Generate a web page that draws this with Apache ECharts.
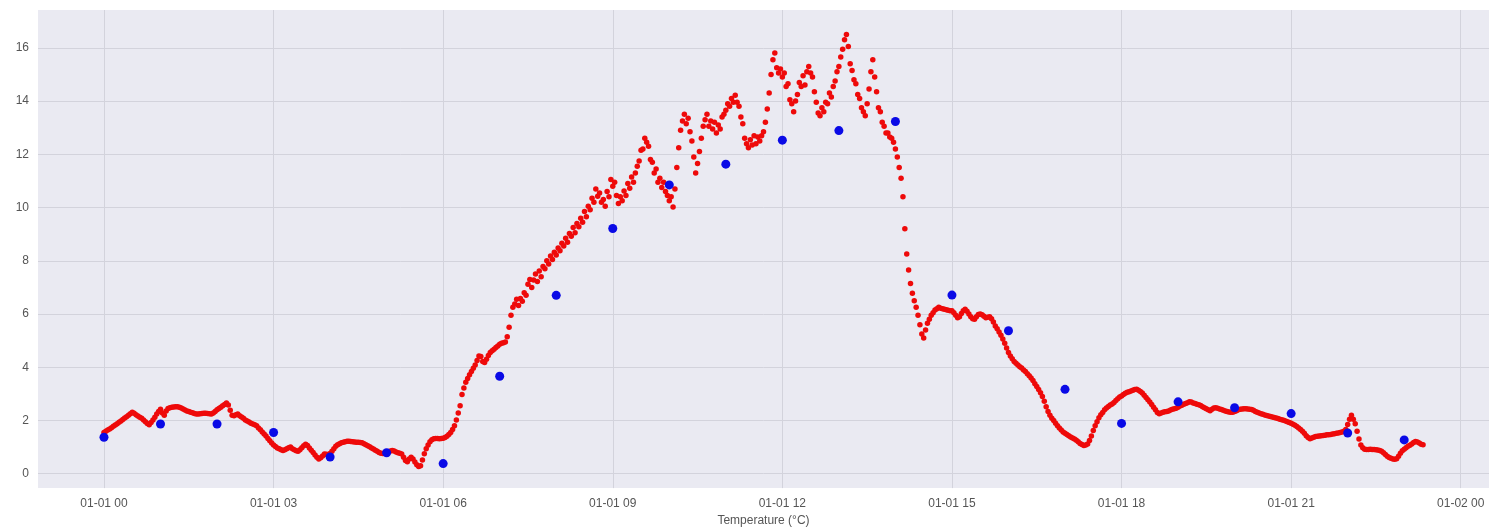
<!DOCTYPE html>
<html>
<head>
<meta charset="utf-8">
<script src="https://cdn.jsdelivr.net/npm/echarts@6/dist/echarts.min.js"></script>
<style>
  html, body { margin: 0; padding: 0; background: #ffffff; }
  #chart { width: 1489px; height: 532px; }
</style>
</head>
<body>
<div id="chart"></div>
<script>
// Temperature readings, one every 2 minutes from 01-01 00:00 (°C)
const stepHours = 1 / 30;
const sensorTemp = [
  // 00h
  1.55,1.60,1.64,1.68,1.73,1.78,1.83,1.88,1.93,1.98,2.04,2.09,2.14,2.20,2.25,2.31,2.27,2.22,2.17,2.12,2.08,2.02,1.95,1.89,1.84,1.92,2.02,2.12,2.24,2.34,
  // 01h
  2.42,2.28,2.20,2.36,2.45,2.48,2.50,2.51,2.52,2.52,2.50,2.47,2.43,2.39,2.36,2.34,2.31,2.29,2.26,2.24,2.24,2.25,2.26,2.27,2.27,2.26,2.25,2.24,2.28,2.34,
  // 02h
  2.40,2.45,2.50,2.55,2.60,2.66,2.58,2.38,2.20,2.18,2.22,2.24,2.18,2.13,2.08,2.02,1.98,1.94,1.90,1.87,1.84,1.80,1.72,1.65,1.57,1.49,1.42,1.32,1.24,1.15,
  // 03h
  1.08,1.02,0.97,0.94,0.90,0.87,0.90,0.94,0.98,1.00,0.94,0.90,0.86,0.84,0.90,0.98,1.05,1.11,1.06,0.97,0.88,0.80,0.70,0.62,0.55,0.60,0.67,0.74,0.73,0.72,
  // 04h
  0.76,0.84,0.94,1.03,1.09,1.13,1.16,1.18,1.20,1.22,1.22,1.21,1.20,1.19,1.18,1.18,1.17,1.16,1.13,1.09,1.05,1.01,0.97,0.93,0.88,0.84,0.80,0.77,0.76,0.78,
  // 05h
  0.80,0.83,0.85,0.87,0.85,0.82,0.79,0.77,0.74,0.62,0.50,0.45,0.55,0.62,0.55,0.44,0.34,0.27,0.30,0.52,0.75,0.94,1.08,1.20,1.28,1.31,1.32,1.32,1.31,1.32,
  // 06h
  1.33,1.36,1.41,1.47,1.55,1.66,1.80,2.02,2.28,2.55,2.98,3.22,3.44,3.58,3.72,3.84,3.96,4.08,4.25,4.42,4.40,4.22,4.18,4.30,4.44,4.55,4.62,4.68,4.74,4.80,
  // 07h
  4.86,4.90,4.92,4.95,5.15,5.50,5.95,6.25,6.38,6.55,6.32,6.58,6.48,6.80,6.70,7.12,7.30,7.00,7.28,7.50,7.22,7.62,7.40,7.78,7.70,8.00,7.88,8.18,8.05,8.32,
  // 08h
  8.22,8.48,8.38,8.66,8.55,8.85,8.70,9.02,8.92,9.25,9.05,9.40,9.28,9.60,9.45,9.85,9.65,10.05,9.92,10.35,10.20,10.70,10.42,10.55,10.20,10.30,10.05,10.60,10.40,11.05,
  // 09h
  10.80,10.95,10.45,10.15,10.40,10.25,10.62,10.45,10.90,10.72,11.15,10.95,11.30,11.55,11.75,12.15,12.20,12.60,12.45,12.30,11.80,11.70,11.30,11.45,10.95,11.10,10.75,10.95,10.60,10.45,
  // 10h
  10.25,10.40,10.02,10.70,11.50,12.25,12.90,13.25,13.50,13.15,13.35,12.85,12.50,11.90,11.30,11.65,12.10,12.60,13.05,13.30,13.50,13.05,13.25,12.95,13.20,12.80,13.10,12.95,13.40,13.50,
  // 11h
  13.65,13.90,13.80,14.10,13.95,14.22,13.95,13.80,13.40,13.15,12.60,12.40,12.25,12.55,12.35,12.70,12.40,12.65,12.50,12.70,12.85,13.20,13.70,14.30,15.00,15.55,15.80,15.25,15.05,15.20,
  // 12h
  14.90,15.05,14.55,14.65,14.05,13.90,13.60,14.00,14.25,14.70,14.55,14.95,14.60,15.10,15.30,15.05,14.90,14.35,13.95,13.55,13.45,13.75,13.60,13.95,13.90,14.30,14.15,14.55,14.75,15.10,
  // 13h
  15.30,15.65,15.95,16.30,16.50,16.05,15.40,15.15,14.80,14.65,14.25,14.10,13.75,13.60,13.45,13.90,14.45,15.10,15.55,14.90,14.35,13.75,13.60,13.20,13.05,12.80,12.80,12.65,12.60,12.45,
  // 14h
  12.20,11.90,11.50,11.10,10.40,9.20,8.25,7.65,7.15,6.78,6.50,6.25,5.95,5.60,5.25,5.10,5.40,5.65,5.80,5.95,6.05,6.15,6.20,6.25,6.22,6.20,6.18,6.16,6.14,6.12,
  // 15h
  6.12,6.05,5.95,5.86,5.90,6.02,6.12,6.18,6.10,6.00,5.90,5.82,5.80,5.90,5.98,6.00,5.97,5.92,5.86,5.88,5.90,5.82,5.70,5.55,5.45,5.32,5.20,5.06,4.90,4.72,
  // 16h
  4.55,4.42,4.32,4.22,4.15,4.08,4.02,3.97,3.90,3.84,3.76,3.68,3.60,3.50,3.38,3.28,3.16,3.04,2.90,2.72,2.52,2.34,2.20,2.08,2.00,1.90,1.80,1.72,1.64,1.57,
  // 17h
  1.52,1.47,1.43,1.38,1.34,1.30,1.26,1.20,1.14,1.10,1.06,1.08,1.12,1.25,1.42,1.62,1.80,1.95,2.10,2.22,2.30,2.40,2.47,2.53,2.58,2.62,2.68,2.75,2.82,2.88,
  // 18h
  2.92,2.98,3.02,3.06,3.08,3.11,3.14,3.16,3.17,3.14,3.09,3.03,2.95,2.86,2.78,2.69,2.60,2.50,2.40,2.30,2.25,2.28,2.31,2.33,2.34,2.36,2.39,2.42,2.44,2.46,
  // 19h
  2.50,2.54,2.57,2.61,2.64,2.67,2.70,2.69,2.66,2.64,2.61,2.59,2.56,2.52,2.48,2.44,2.40,2.37,2.42,2.47,2.48,2.46,2.43,2.41,2.38,2.36,2.34,2.32,2.31,2.31,
  // 20h
  2.34,2.37,2.40,2.42,2.43,2.44,2.44,2.43,2.42,2.41,2.38,2.34,2.31,2.28,2.25,2.23,2.21,2.19,2.17,2.15,2.13,2.11,2.09,2.07,2.05,2.03,2.01,1.98,1.95,1.92,
  // 21h
  1.90,1.86,1.82,1.77,1.72,1.66,1.60,1.52,1.43,1.36,1.31,1.34,1.37,1.40,1.41,1.42,1.43,1.44,1.45,1.46,1.46,1.47,1.49,1.50,1.52,1.53,1.55,1.57,1.60,1.66,
  // 22h
  1.85,2.05,2.20,2.05,1.88,1.60,1.30,1.08,0.98,0.92,0.91,0.91,0.92,0.91,0.91,0.90,0.89,0.87,0.84,0.79,0.72,0.66,0.61,0.58,0.55,0.54,0.56,0.66,0.77,0.86,
  // 23h
  0.92,0.98,1.03,1.07,1.12,1.17,1.21,1.19,1.15,1.11,1.09
];

// Hourly reference readings at xx:00 (°C)
const hourlyTemp = [
  1.37,1.87,1.87,1.55,0.63,0.79,0.38,3.66,6.70,9.21,10.85,11.63,
  12.53,12.89,13.23,6.71,5.37,3.17,1.89,2.70,2.48,2.26,1.53,1.27
];

// Axis ticks
const xTickHours = [0, 3, 6, 9, 12, 15, 18, 21, 24];
const xTickLabels = ['01-01 00', '01-01 03', '01-01 06', '01-01 09', '01-01 12',
                     '01-01 15', '01-01 18', '01-01 21', '01-02 00'];
const yTicks = [0, 2, 4, 6, 8, 10, 12, 14, 16];
const xAxisTitle = 'Temperature (°C)';

const sensorPoints = sensorTemp.map((v, i) => [i * stepHours, v]);
const hourlyPoints = hourlyTemp.map((v, i) => [i, v]);

const labelFont = {
  fontFamily: '"Liberation Sans", Arial, sans-serif',
  fontSize: 12,
  color: '#555555'
};
const gridLine = { show: true, lineStyle: { color: '#d3d3dc', width: 1 } };

const chart = echarts.init(document.getElementById('chart'), null, { renderer: 'canvas' });
chart.setOption({
  animation: false,
  backgroundColor: '#ffffff',
  grid: {
    left: 38, right: -2, top: 10, bottom: 39,
    show: true, backgroundColor: '#eaeaf2', borderWidth: 0,
    containLabel: false
  },
  xAxis: {
    type: 'value',
    min: -1.167, max: 24.5,
    axisLine: { show: false },
    axisTick: { show: false, customValues: xTickHours },
    axisLabel: Object.assign({
      customValues: xTickHours,
      margin: 10,
      formatter: (v) => xTickLabels[xTickHours.indexOf(Math.round(v))]
    }, labelFont),
    splitLine: gridLine,
    name: xAxisTitle,
    nameLocation: 'middle',
    nameGap: 25,
    nameTextStyle: labelFont
  },
  yAxis: {
    type: 'value',
    min: -0.54, max: 17.42,
    axisLine: { show: false },
    axisTick: { show: false, customValues: yTicks },
    axisLabel: Object.assign({
      customValues: yTicks,
      margin: 9,
      formatter: (v) => String(Math.round(v))
    }, labelFont),
    splitLine: gridLine
  },
  series: [
    {
      name: 'sensor',
      type: 'scatter',
      data: sensorPoints,
      symbol: 'circle',
      symbolSize: 5.5,
      large: false,
      itemStyle: { color: '#ee0a0a', opacity: 1 },
      silent: true,
      z: 2
    },
    {
      name: 'hourly',
      type: 'scatter',
      data: hourlyPoints,
      symbol: 'circle',
      symbolSize: 9,
      itemStyle: { color: '#0a0ae6', opacity: 1 },
      silent: true,
      z: 3
    }
  ]
});
</script>
</body>
</html>
